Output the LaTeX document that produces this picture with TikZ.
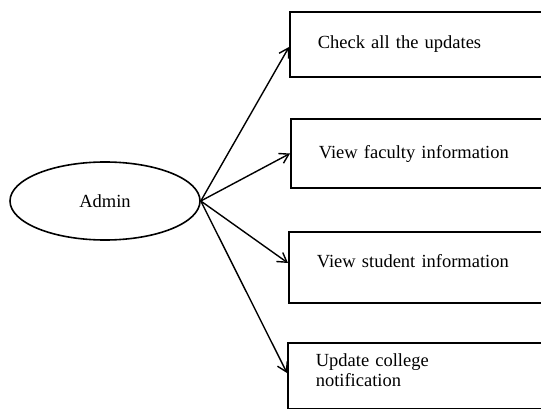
\documentclass[tikz,border=0pt]{standalone}
\usepackage{fontspec}
\setmainfont{Liberation Serif}
\usetikzlibrary{arrows.meta,shapes.geometric}
\tikzset{
	actor/.style={ellipse, draw, line width=1.6pt, minimum width=190pt, minimum height=78pt, inner sep=0pt},
	task/.style={rectangle, draw, line width=1.6pt, anchor=west, text width=244pt, inner xsep=28pt, inner ysep=0pt, align=left},
	link/.style={line width=1.4pt, -{Straight Barb[length=9pt, width=11pt, line width=1.4pt]}}
}

\begin{document}
\begin{tikzpicture}[x=1pt, y=-1pt, font=\fontsize{18.5}{20}\selectfont]
		%%%%% START %%%%%
		
		\useasboundingbox (0, 0) rectangle (541, 409);
		\clip (0, 0) rectangle (541, 409);
		
		\node[actor] (admin) at (105, 201) {Admin};
		
		\node[task, minimum height=65pt] (updates) at (289, 44.5) {Check all the updates};
		\node[task, minimum height=69pt] (faculty) at (290, 153.5) {View faculty information};
		\node[task, minimum height=71pt, text depth=13pt] (student) at (288, 267.5) {View student information};
		\node[task, minimum height=66pt, text depth=31pt] (notice) at (287, 376) {Update college\\notification};
		
		\draw[link] (admin.east) -- ([yshift=-2.5pt]updates.west);
		\draw[link] (admin.east) -- (faculty.west);
		\draw[link] (admin.east) -- ([yshift=4.5pt]student.west);
		\draw[link] (admin.east) -- ([yshift=3pt]notice.west);
		
		%%%%% END %%%%%
	\end{tikzpicture}
\end{document}
